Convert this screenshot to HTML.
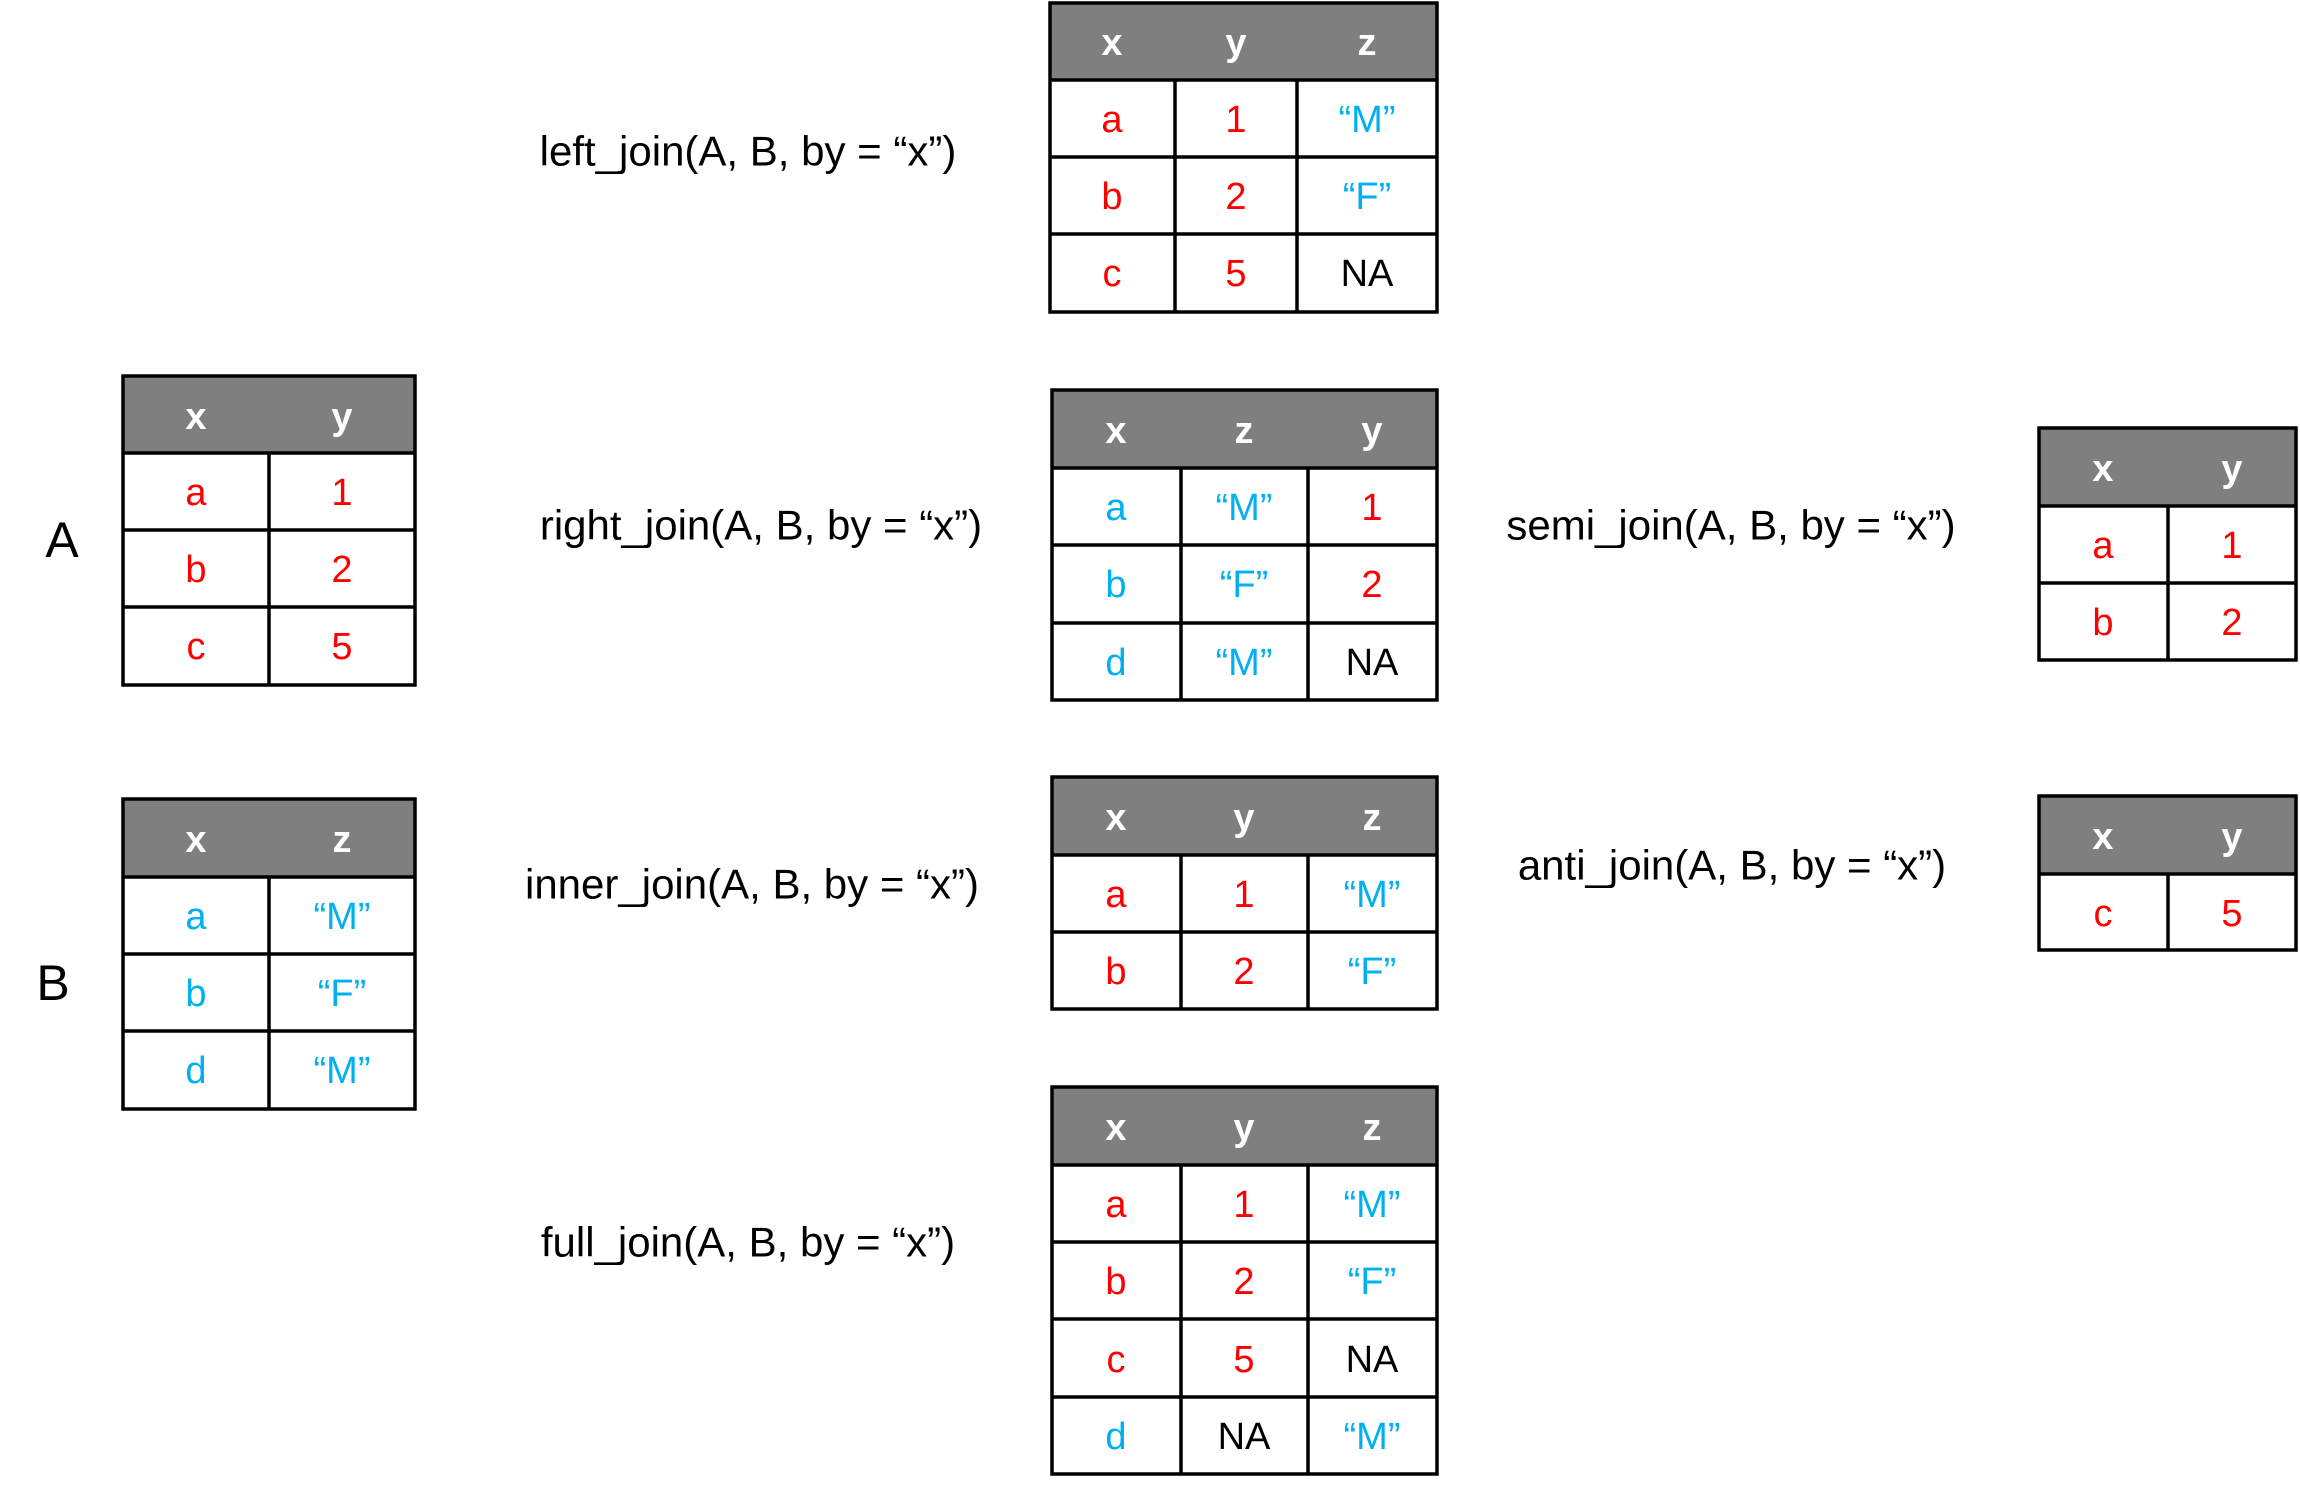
<!DOCTYPE html>
<html><head><meta charset="utf-8"><style>
html,body{margin:0;padding:0;background:#fff;}
svg{display:block;}
text{font-family:"Liberation Sans",sans-serif;}
.h{fill:#fff;font-weight:bold;font-size:38px;}
.r{fill:#ff0000;font-size:38px;}
.b{fill:#00b0f0;font-size:38px;}
.k{fill:#000;font-size:38px;}
.l{fill:#000;font-size:42px;}
.hd{fill:#7f7f7f;}
line,.bx{stroke:#000;stroke-width:3.5;}
</style></head><body>
<svg width="2300" height="1491" viewBox="0 0 2300 1491" xmlns="http://www.w3.org/2000/svg" text-anchor="middle" dominant-baseline="central">
<!-- left_join -->
<rect class="hd" x="1050" y="3" width="387" height="77"/>
<rect class="bx" x="1050" y="3" width="387" height="309" fill="none"/>
<line x1="1050" y1="80" x2="1437" y2="80"/><line x1="1050" y1="157" x2="1437" y2="157"/><line x1="1050" y1="234" x2="1437" y2="234"/>
<line x1="1175" y1="80" x2="1175" y2="312"/><line x1="1297" y1="80" x2="1297" y2="312"/>
<text class="h" x="1112" y="43">x</text><text class="h" x="1236" y="43">y</text><text class="h" x="1367" y="43">z</text>
<text class="r" x="1112" y="120">a</text><text class="r" x="1236" y="120">1</text><text class="b" x="1367" y="120">“M”</text>
<text class="r" x="1112" y="197">b</text><text class="r" x="1236" y="197">2</text><text class="b" x="1367" y="197">“F”</text>
<text class="r" x="1112" y="274">c</text><text class="r" x="1236" y="274">5</text><text class="k" x="1367" y="274">NA</text>

<!-- right_join -->
<rect class="hd" x="1052" y="390" width="385" height="78"/>
<rect class="bx" x="1052" y="390" width="385" height="310" fill="none"/>
<line x1="1052" y1="468" x2="1437" y2="468"/><line x1="1052" y1="545" x2="1437" y2="545"/><line x1="1052" y1="623" x2="1437" y2="623"/>
<line x1="1181" y1="468" x2="1181" y2="700"/><line x1="1308" y1="468" x2="1308" y2="700"/>
<text class="h" x="1116" y="431">x</text><text class="h" x="1244" y="431">z</text><text class="h" x="1372" y="431">y</text>
<text class="b" x="1116" y="508">a</text><text class="b" x="1244" y="508">“M”</text><text class="r" x="1372" y="508">1</text>
<text class="b" x="1116" y="585">b</text><text class="b" x="1244" y="585">“F”</text><text class="r" x="1372" y="585">2</text>
<text class="b" x="1116" y="663">d</text><text class="b" x="1244" y="663">“M”</text><text class="k" x="1372" y="663">NA</text>

<!-- inner_join -->
<rect class="hd" x="1052" y="777" width="385" height="78"/>
<rect class="bx" x="1052" y="777" width="385" height="232" fill="none"/>
<line x1="1052" y1="855" x2="1437" y2="855"/><line x1="1052" y1="932" x2="1437" y2="932"/>
<line x1="1181" y1="855" x2="1181" y2="1009"/><line x1="1308" y1="855" x2="1308" y2="1009"/>
<text class="h" x="1116" y="818">x</text><text class="h" x="1244" y="818">y</text><text class="h" x="1372" y="818">z</text>
<text class="r" x="1116" y="895">a</text><text class="r" x="1244" y="895">1</text><text class="b" x="1372" y="895">“M”</text>
<text class="r" x="1116" y="972">b</text><text class="r" x="1244" y="972">2</text><text class="b" x="1372" y="972">“F”</text>

<!-- full_join -->
<rect class="hd" x="1052" y="1087" width="385" height="78"/>
<rect class="bx" x="1052" y="1087" width="385" height="387" fill="none"/>
<line x1="1052" y1="1165" x2="1437" y2="1165"/><line x1="1052" y1="1242" x2="1437" y2="1242"/><line x1="1052" y1="1319" x2="1437" y2="1319"/><line x1="1052" y1="1397" x2="1437" y2="1397"/>
<line x1="1181" y1="1165" x2="1181" y2="1474"/><line x1="1308" y1="1165" x2="1308" y2="1474"/>
<text class="h" x="1116" y="1128">x</text><text class="h" x="1244" y="1128">y</text><text class="h" x="1372" y="1128">z</text>
<text class="r" x="1116" y="1205">a</text><text class="r" x="1244" y="1205">1</text><text class="b" x="1372" y="1205">“M”</text>
<text class="r" x="1116" y="1282">b</text><text class="r" x="1244" y="1282">2</text><text class="b" x="1372" y="1282">“F”</text>
<text class="r" x="1116" y="1360">c</text><text class="r" x="1244" y="1360">5</text><text class="k" x="1372" y="1360">NA</text>
<text class="b" x="1116" y="1437">d</text><text class="k" x="1244" y="1437">NA</text><text class="b" x="1372" y="1437">“M”</text>

<!-- A -->
<rect class="hd" x="123" y="376" width="292" height="77"/>
<rect class="bx" x="123" y="376" width="292" height="309" fill="none"/>
<line x1="123" y1="453" x2="415" y2="453"/><line x1="123" y1="530" x2="415" y2="530"/><line x1="123" y1="607" x2="415" y2="607"/>
<line x1="269" y1="453" x2="269" y2="685"/>
<text class="h" x="196" y="417">x</text><text class="h" x="342" y="417">y</text>
<text class="r" x="196" y="493">a</text><text class="r" x="342" y="493">1</text>
<text class="r" x="196" y="570">b</text><text class="r" x="342" y="570">2</text>
<text class="r" x="196" y="647">c</text><text class="r" x="342" y="647">5</text>

<!-- B -->
<rect class="hd" x="123" y="799" width="292" height="78"/>
<rect class="bx" x="123" y="799" width="292" height="310" fill="none"/>
<line x1="123" y1="877" x2="415" y2="877"/><line x1="123" y1="954" x2="415" y2="954"/><line x1="123" y1="1031" x2="415" y2="1031"/>
<line x1="269" y1="877" x2="269" y2="1109"/>
<text class="h" x="196" y="840">x</text><text class="h" x="342" y="840">z</text>
<text class="b" x="196" y="917">a</text><text class="b" x="342" y="917">“M”</text>
<text class="b" x="196" y="994">b</text><text class="b" x="342" y="994">“F”</text>
<text class="b" x="196" y="1071">d</text><text class="b" x="342" y="1071">“M”</text>

<!-- semi -->
<rect class="hd" x="2039" y="428" width="257" height="78"/>
<rect class="bx" x="2039" y="428" width="257" height="232" fill="none"/>
<line x1="2039" y1="506" x2="2296" y2="506"/><line x1="2039" y1="583" x2="2296" y2="583"/>
<line x1="2168" y1="506" x2="2168" y2="660"/>
<text class="h" x="2103" y="469">x</text><text class="h" x="2232" y="469">y</text>
<text class="r" x="2103" y="546">a</text><text class="r" x="2232" y="546">1</text>
<text class="r" x="2103" y="623">b</text><text class="r" x="2232" y="623">2</text>

<!-- anti -->
<rect class="hd" x="2039" y="796" width="257" height="78"/>
<rect class="bx" x="2039" y="796" width="257" height="154" fill="none"/>
<line x1="2039" y1="874" x2="2296" y2="874"/>
<line x1="2168" y1="874" x2="2168" y2="950"/>
<text class="h" x="2103" y="837">x</text><text class="h" x="2232" y="837">y</text>
<text class="r" x="2103" y="914">c</text><text class="r" x="2232" y="914">5</text>

<!-- labels -->
<text class="l" x="748" y="151">left_join(A, B, by = “x”)</text>
<text class="l" x="761" y="525">right_join(A, B, by = “x”)</text>
<text class="l" x="752" y="884">inner_join(A, B, by = “x”)</text>
<text class="l" x="748" y="1242">full_join(A, B, by = “x”)</text>
<text class="l" x="1731" y="525">semi_join(A, B, by = “x”)</text>
<text class="l" x="1732" y="865">anti_join(A, B, by = “x”)</text>
<text x="62" y="540" style="font-size:50px">A</text>
<text x="53" y="983" style="font-size:50px">B</text>
</svg>
</body></html>
